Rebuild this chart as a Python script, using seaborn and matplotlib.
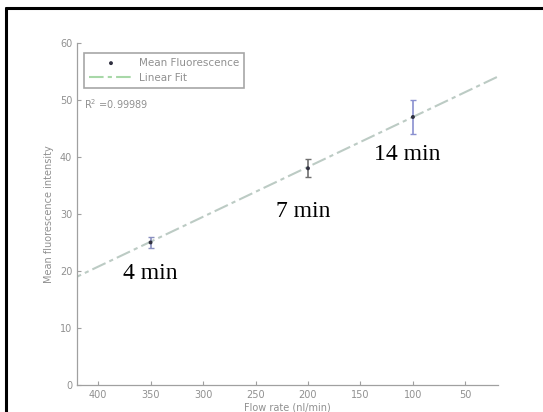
import numpy as np
import pandas as pd
import matplotlib
matplotlib.use('Agg')
import matplotlib.pyplot as plt
import seaborn as sns
from matplotlib.lines import Line2D

# data
flow_rate = [350, 200, 100]
mean_fluo = [25.0, 38.0, 47.0]
err_fluo = [1.0, 1.6, 3.0]
time_labels = ['4 min', '7 min', '14 min']
label_x = [350, 205, 105]
label_y = [19.5, 30.5, 40.5]
fit_x = [420, 20]
fit_slope = -0.0875
fit_icpt = 55.75
r2_text = 'R$^2$ =0.99989'

sns.set_theme(style='white')
plt.rcParams['font.family'] = ['DejaVu Sans']

fig = plt.figure(figsize=(5.43, 4.12), dpi=100)
ax = fig.add_axes([0.142, 0.0655, 0.775, 0.8305])

df = pd.DataFrame({'flow': flow_rate, 'fluo': mean_fluo, 'err': err_fluo})
fit = pd.DataFrame({'x': fit_x})
fit['y'] = fit_icpt + fit_slope * fit['x']

sns.lineplot(data=fit, x='x', y='y', ax=ax, color='#bccbc4', lw=1.5,
             linestyle=(0, (7, 2, 2, 2)), label='Linear Fit')

err_colors = ['#8a90c0', '#707070', '#8a90d0']
for i, r in df.iterrows():
    ax.errorbar(r['flow'], r['fluo'], yerr=r['err'], fmt='none',
                ecolor=err_colors[i], elinewidth=1.2, capsize=2.5, capthick=1)
sns.scatterplot(data=df, x='flow', y='fluo', ax=ax, color='#303040', s=8,
                edgecolor='none', label='Mean Fluorescence', zorder=5)

for t, lx, ly in zip(time_labels, label_x, label_y):
    ax.text(lx, ly, t, ha='center', va='center', fontsize=17,
            family=['Liberation Serif', 'DejaVu Serif'], color='black')

ax.text(413, 49.2, r2_text, fontsize=7, color='#909090', va='center')

ax.set_xlim(420, 19)
ax.set_ylim(0, 60)
ax.set_xticks([400, 350, 300, 250, 200, 150, 100, 50])
ax.set_yticks([0, 10, 20, 30, 40, 50, 60])
ax.set_xlabel('Flow rate (nl/min)', fontsize=7, color='#909090', labelpad=2)
ax.set_ylabel('Mean fluorescence intensity', fontsize=7, color='#909090', labelpad=4)
ax.tick_params(axis='both', direction='in', length=3, width=0.8, colors='#a0a0a0',
               labelsize=7, labelcolor='#909090', bottom=True, left=True)
sns.despine(ax=ax)
for s in ['left', 'bottom']:
    ax.spines[s].set_color('#a0a0a0')
    ax.spines[s].set_linewidth(0.9)

h, l = ax.get_legend_handles_labels()
order = [l.index('Mean Fluorescence'), l.index('Linear Fit')]
leg = ax.legend([h[i] for i in order], [l[i] for i in order], loc='upper left',
                bbox_to_anchor=(0.005, 0.985), fontsize=7.5, frameon=True, fancybox=False,
                edgecolor='#909090', labelspacing=0.5, borderpad=0.45, handlelength=4.2,
                handletextpad=0.6)
for t in leg.get_texts():
    t.set_color('#909090')
leg.get_lines()[0].set_color('#a8d8a8') if len(leg.get_lines()) else None
leg.get_frame().set_linewidth(1.2)

# screenshot frame (left and top edges)
fig.add_artist(Line2D([6 / 543, 6 / 543], [0, 1 - 8 / 412], transform=fig.transFigure,
                      color='black', lw=2.2))
fig.add_artist(Line2D([6 / 543, 1], [1 - 8 / 412, 1 - 8 / 412], transform=fig.transFigure,
                      color='black', lw=2.2))

fig.savefig('out.png', dpi=100)
